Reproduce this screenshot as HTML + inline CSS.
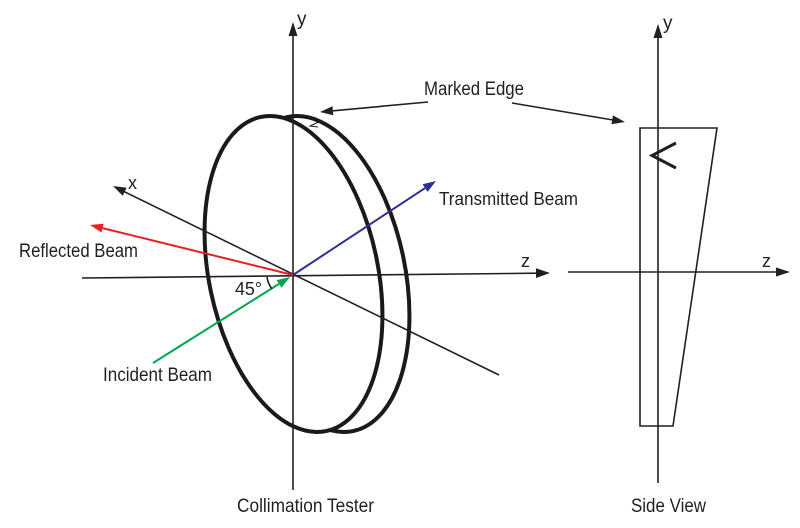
<!DOCTYPE html>
<html><head><meta charset="utf-8"><style>
html,body{margin:0;padding:0;background:#fff;width:800px;height:528px;overflow:hidden}
svg{display:block}
text{font-family:"Liberation Sans",Arial,sans-serif;fill:#231f20}
</style></head><body>
<svg width="800" height="528" viewBox="0 0 800 528" xmlns="http://www.w3.org/2000/svg">
<!-- disc -->
<ellipse cx="320.5" cy="274" rx="84.5" ry="160.4" transform="rotate(-11.75 320.5 274)" fill="none" stroke="#1a1a1a" stroke-width="4"/>
<ellipse cx="293.5" cy="274" rx="84.5" ry="160.4" transform="rotate(-11.75 293.5 274)" fill="#fff" stroke="#1a1a1a" stroke-width="4"/>
<path d="M321 121 L310 126 L318 127" fill="none" stroke="#231f20" stroke-width="1"/>
<!-- main axes -->
<g stroke="#231f20" stroke-width="1.6" fill="none">
<line x1="293" y1="36" x2="293" y2="490"/>
<line x1="82" y1="278" x2="537" y2="273.2"/>
<line x1="499" y1="375" x2="124" y2="191.5"/>
<line x1="428" y1="102" x2="333" y2="110.8"/>
<line x1="512" y1="103" x2="613" y2="120"/>
</g>
<g fill="#231f20">
<polygon points="293,22 288.5,36 297.5,36"/>
<polygon points="550,273 536,268.3 536,278"/>
<polygon points="113,186 126.6,187.7 122.7,195.8"/>
<polygon points="320,112 332.5,106.3 333.3,115.3"/>
<polygon points="625,122 611.4,124.2 613,115.4"/>
</g>
<!-- beams -->
<line x1="293" y1="275" x2="102.6" y2="228.1" stroke="#ed1c24" stroke-width="2"/>
<polygon points="90,225 103.7,223.7 101.5,232.5" fill="#ed1c24"/>
<line x1="293" y1="275" x2="425.1" y2="188.1" stroke="#2e3192" stroke-width="2"/>
<polygon points="436,181 427.6,191.9 422.6,184.3" fill="#2e3192"/>
<line x1="153" y1="363" x2="279" y2="283.9" stroke="#00a651" stroke-width="2"/>
<polygon points="290,277 281.4,287.7 276.6,280.1" fill="#00a651"/>
<!-- angle arc -->
<path d="M267 277 A 25 25 0 0 0 272 289" fill="none" stroke="#231f20" stroke-width="1.6"/>
<!-- side view -->
<g stroke="#231f20" stroke-width="1.6" fill="none">
<polygon points="640,128 717,128 673,426 640,426"/>
<line x1="658" y1="38" x2="658" y2="483"/>
<line x1="568" y1="272" x2="777" y2="272"/>
</g>
<g fill="#231f20">
<polygon points="658,24 653.5,38 662.5,38"/>
<polygon points="790,272 776,267.5 776,276.5"/>
</g>
<path d="M676 143 L652 155.5 L676 168" fill="none" stroke="#231f20" stroke-width="3"/>
<!-- labels -->
<text x="424" y="95" font-size="19" textLength="100" lengthAdjust="spacingAndGlyphs">Marked Edge</text>
<text x="439" y="205" font-size="18.5" textLength="139" lengthAdjust="spacingAndGlyphs">Transmitted Beam</text>
<text x="19" y="257" font-size="19" textLength="119" lengthAdjust="spacingAndGlyphs">Reflected Beam</text>
<text x="103" y="381" font-size="19" textLength="109" lengthAdjust="spacingAndGlyphs">Incident Beam</text>
<text x="237" y="512" font-size="19" textLength="137" lengthAdjust="spacingAndGlyphs">Collimation Tester</text>
<text x="631" y="512" font-size="19" textLength="75" lengthAdjust="spacingAndGlyphs">Side View</text>
<text x="235" y="295" font-size="18.5" textLength="27" lengthAdjust="spacingAndGlyphs">45°</text>
<text x="128" y="189" font-size="18">x</text>
<text x="297" y="25" font-size="19">y</text>
<text x="521" y="267" font-size="18">z</text>
<text x="663" y="29" font-size="19">y</text>
<text x="762" y="267" font-size="18">z</text>
</svg>
</body></html>
